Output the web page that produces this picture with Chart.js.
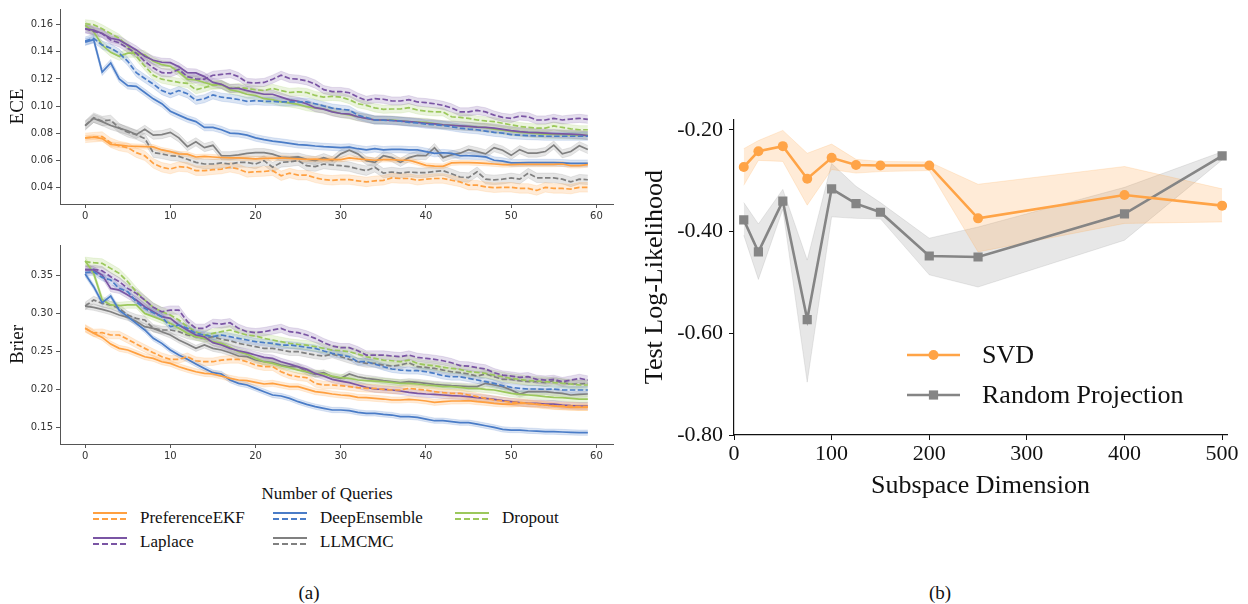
<!DOCTYPE html>
<html>
<head>
<meta charset="utf-8">
<script src="https://cdn.jsdelivr.net/npm/chart.js@4.4.1/dist/chart.umd.min.js"></script>
<style>
  html, body { margin: 0; padding: 0; background: #fff; }
  body { width: 1248px; height: 604px; position: relative; overflow: hidden; font-family: "Liberation Serif", "Times New Roman", serif; color: #111; }
  canvas { position: absolute; }
  .c { position: absolute; white-space: nowrap; transform: translate(-50%, -50%); line-height: 1; }
  .l { position: absolute; white-space: nowrap; transform: translateY(-50%); line-height: 1; }
  .h { position: absolute; width: 34px; height: 2px; }
</style>
</head>
<body>
<canvas id="eceChart" width="630" height="225" style="left:0;top:0"></canvas>
<canvas id="brierChart" width="630" height="240" style="left:0;top:225px"></canvas>
<canvas id="llChart" width="612" height="410" style="left:630px;top:100px"></canvas>

<div class="c" style="left:327px;top:493px;font-size:17px">Number of Queries</div>
<div id="legendA"></div>
<div class="c" style="left:309px;top:592px;font-size:19px">(a)</div>
<div class="c" style="left:940px;top:592px;font-size:19px">(b)</div>

<script>
// ---- query axis ----
const queries = Array.from({ length: 60 }, (_, i) => i);
const queryTicks = [0, 10, 20, 30, 40, 50, 60];
const eceTicks = [0.04, 0.06, 0.08, 0.10, 0.12, 0.14, 0.16];
const brierTicks = [0.15, 0.20, 0.25, 0.30, 0.35];

// ---- ECE per query (solid / dashed variant of each method) ----
const eceEKF = [.0765,.0770,.0760,.0717,.0712,.0705,.0702,.0700,.0698,.0676,.0664,.0647,.0645,.0624,.0628,.0624,.0620,.0617,.0617,.0614,
  .0610,.0614,.0614,.0617,.0614,.0610,.0607,.0608,.0605,.0607,.0605,.0617,.0610,.0605,.0600,.0605,.0605,.0600,.0600,.0582,
  .0562,.0557,.0555,.0580,.0582,.0582,.0580,.0577,.0572,.0567,.0567,.0570,.0570,.0570,.0570,.0570,.0572,.0560,.0560,.0567];
const eceEKFDash = [.0765,.0770,.0775,.0729,.0705,.0693,.0656,.0633,.0577,.0548,.0535,.0553,.0548,.0523,.0523,.0530,.0535,.0548,.0535,.0510,
  .0515,.0517,.0523,.0485,.0505,.0490,.0490,.0470,.0457,.0452,.0457,.0457,.0448,.0440,.0448,.0452,.0469,.0465,.0465,.0452,
  .0460,.0465,.0465,.0452,.0440,.0416,.0416,.0404,.0397,.0400,.0400,.0392,.0392,.0377,.0400,.0392,.0392,.0387,.0400,.0400];
const eceDE = [.1472,.1490,.1250,.1318,.1200,.1150,.1145,.1100,.1053,.1017,.0962,.0933,.0905,.0885,.0842,.0842,.0825,.0800,.0796,.0785,
  .0765,.0752,.0741,.0733,.0725,.0715,.0712,.0705,.0700,.0697,.0693,.0697,.0685,.0676,.0685,.0676,.0680,.0680,.0676,.0676,
  .0664,.0650,.0655,.0650,.0633,.0633,.0630,.0625,.0600,.0593,.0580,.0580,.0582,.0582,.0582,.0582,.0580,.0577,.0577,.0577];
const eceDEDash = [.1480,.1499,.1450,.1427,.1390,.1330,.1246,.1203,.1162,.1114,.1090,.1114,.1090,.1042,.1054,.1082,.1065,.1058,.1048,.1035,
  .1040,.1035,.1035,.1030,.1030,.1030,.1030,.1017,.1000,.0985,.0977,.0970,.0933,.0915,.0897,.0895,.0893,.0888,.0880,.0875,
  .0866,.0862,.0857,.0847,.0837,.0830,.0825,.0815,.0806,.0800,.0789,.0785,.0782,.0780,.0777,.0777,.0777,.0777,.0777,.0777];
const eceLap = [.1570,.1560,.1535,.1500,.1487,.1450,.1414,.1367,.1338,.1323,.1320,.1290,.1246,.1244,.1217,.1174,.1160,.1130,.1130,.1114,
  .1100,.1087,.1087,.1066,.1045,.1035,.1017,.0988,.0977,.0957,.0945,.0940,.0921,.0909,.0897,.0897,.0893,.0889,.0885,.0879,
  .0873,.0868,.0862,.0858,.0854,.0850,.0845,.0842,.0837,.0828,.0818,.0811,.0806,.0803,.0800,.0797,.0794,.0792,.0789,.0782];
const eceLapDash = [.1570,.1550,.1535,.1487,.1466,.1427,.1390,.1330,.1282,.1246,.1244,.1270,.1217,.1200,.1198,.1227,.1233,.1240,.1217,.1174,
  .1170,.1174,.1198,.1227,.1203,.1198,.1186,.1162,.1121,.1107,.1107,.1098,.1066,.1042,.1054,.1050,.1037,.1037,.1047,.1030,
  .1025,.1017,.1005,.0986,.0957,.0957,.0968,.0957,.0933,.0916,.0909,.0926,.0921,.0897,.0897,.0909,.0897,.0904,.0909,.0902];
const eceDrop = [.1595,.1547,.1450,.1396,.1367,.1390,.1390,.1378,.1330,.1305,.1294,.1251,.1198,.1193,.1174,.1155,.1160,.1120,.1107,.1087,
  .1078,.1054,.1047,.1030,.1023,.1012,.0995,.0985,.0978,.0960,.0945,.0935,.0921,.0910,.0897,.0897,.0897,.0890,.0885,.0882,
  .0879,.0870,.0862,.0858,.0853,.0850,.0846,.0840,.0830,.0822,.0813,.0806,.0801,.0796,.0792,.0790,.0789,.0787,.0784,.0784];
const eceDropDash = [.1607,.1600,.1570,.1535,.1500,.1443,.1367,.1294,.1227,.1198,.1186,.1174,.1167,.1120,.1136,.1155,.1155,.1130,.1136,.1130,
  .1120,.1114,.1130,.1114,.1100,.1105,.1100,.1078,.1066,.1071,.1066,.1047,.1017,.1005,.0986,.0976,.0978,.0978,.0988,.0971,
  .0962,.0957,.0957,.0921,.0916,.0909,.0897,.0890,.0885,.0873,.0861,.0849,.0842,.0837,.0837,.0853,.0842,.0832,.0825,.0825];
const eceMC = [.0856,.0909,.0885,.0856,.0837,.0818,.0789,.0828,.0785,.0789,.0806,.0765,.0700,.0736,.0693,.0710,.0633,.0633,.0640,.0650,
  .0656,.0656,.0645,.0624,.0620,.0624,.0607,.0597,.0619,.0597,.0647,.0674,.0647,.0597,.0584,.0633,.0619,.0584,.0619,.0636,
  .0633,.0693,.0619,.0640,.0652,.0678,.0664,.0647,.0693,.0674,.0636,.0678,.0652,.0652,.0664,.0712,.0647,.0664,.0707,.0679];
const eceMCDash = [.0856,.0914,.0889,.0897,.0837,.0806,.0789,.0760,.0656,.0647,.0633,.0628,.0607,.0584,.0572,.0572,.0580,.0572,.0584,.0584,
  .0572,.0597,.0548,.0584,.0589,.0597,.0560,.0553,.0572,.0565,.0560,.0553,.0536,.0523,.0548,.0505,.0513,.0505,.0513,.0508,
  .0508,.0517,.0523,.0500,.0476,.0472,.0515,.0460,.0455,.0460,.0470,.0460,.0505,.0470,.0470,.0470,.0460,.0440,.0460,.0456];

// ---- Brier score per query ----
const brEKF = [.2801,.2735,.2682,.2594,.2537,.2515,.2471,.2427,.2405,.2361,.2339,.2295,.2260,.2229,.2207,.2199,.2172,.2142,.2120,.2111,
  .2089,.2067,.2076,.2054,.2032,.2032,.2000,.1966,.1953,.1935,.1922,.1913,.1891,.1887,.1878,.1869,.1856,.1856,.1865,.1856,
  .1843,.1825,.1834,.1843,.1843,.1847,.1834,.1825,.1812,.1803,.1803,.1812,.1812,.1799,.1790,.1777,.1768,.1759,.1759,.1759];
const brEKFDash = [.2801,.2740,.2744,.2713,.2713,.2656,.2594,.2537,.2480,.2427,.2392,.2392,.2427,.2374,.2361,.2361,.2383,.2392,.2392,.2361,
  .2317,.2295,.2295,.2229,.2185,.2163,.2150,.2076,.2054,.2054,.2045,.2032,.2019,.2010,.2010,.1997,.1988,.1988,.2010,.1997,
  .1988,.1966,.1953,.1944,.1944,.1922,.1900,.1878,.1856,.1843,.1825,.1825,.1812,.1803,.1790,.1781,.1777,.1777,.1768,.1768];
const brDE = [.3517,.3350,.3140,.3227,.3042,.2955,.2867,.2779,.2669,.2603,.2515,.2449,.2392,.2331,.2273,.2216,.2199,.2120,.2076,.2054,
  .2010,.1966,.1922,.1909,.1878,.1834,.1799,.1768,.1746,.1724,.1724,.1715,.1693,.1680,.1680,.1667,.1658,.1636,.1636,.1627,
  .1605,.1583,.1583,.1570,.1557,.1557,.1539,.1517,.1495,.1469,.1460,.1460,.1451,.1447,.1438,.1438,.1434,.1429,.1425,.1425];
const brDEDash = [.3535,.3548,.3473,.3438,.3328,.3284,.3152,.3064,.3007,.2955,.2823,.2845,.2801,.2735,.2713,.2691,.2713,.2691,.2669,.2647,
  .2625,.2612,.2603,.2581,.2581,.2568,.2550,.2537,.2502,.2471,.2449,.2427,.2361,.2361,.2330,.2295,.2265,.2251,.2243,.2243,
  .2229,.2207,.2177,.2163,.2163,.2142,.2120,.2098,.2076,.2045,.2023,.2010,.2001,.2001,.1997,.2001,.1988,.1988,.1988,.1988];
const brLap = [.3579,.3570,.3504,.3328,.3306,.3240,.3174,.3086,.3020,.2955,.2933,.2845,.2779,.2713,.2691,.2612,.2581,.2537,.2506,.2480,
  .2449,.2418,.2405,.2361,.2330,.2295,.2260,.2207,.2172,.2128,.2106,.2085,.2054,.2023,.2001,.1997,.1988,.1975,.1957,.1944,
  .1935,.1931,.1922,.1913,.1909,.1900,.1887,.1878,.1865,.1847,.1834,.1821,.1812,.1812,.1803,.1803,.1790,.1781,.1777,.1777];
const brLapDash = [.3570,.3579,.3561,.3482,.3416,.3328,.3262,.3174,.3078,.3020,.3042,.3042,.2890,.2801,.2801,.2867,.2858,.2875,.2801,.2757,
  .2744,.2757,.2779,.2801,.2757,.2744,.2713,.2669,.2612,.2568,.2546,.2546,.2506,.2449,.2449,.2449,.2436,.2427,.2449,.2418,
  .2405,.2392,.2374,.2348,.2309,.2304,.2282,.2265,.2216,.2185,.2172,.2155,.2163,.2128,.2119,.2128,.2098,.2119,.2141,.2119];
const brDrop = [.3693,.3526,.3180,.3110,.3100,.3110,.3110,.2998,.2955,.2911,.2867,.2801,.2735,.2691,.2669,.2625,.2603,.2550,.2493,.2462,
  .2405,.2361,.2339,.2304,.2282,.2251,.2229,.2207,.2199,.2172,.2150,.2141,.2120,.2111,.2106,.2098,.2089,.2076,.2076,.2067,
  .2054,.2045,.2032,.2032,.2023,.2010,.2010,.1997,.1988,.1966,.1944,.1931,.1922,.1913,.1900,.1891,.1887,.1878,.1869,.1869];
const brDropDash = [.3680,.3667,.3658,.3592,.3526,.3416,.3284,.3174,.3078,.3020,.2977,.2911,.2823,.2757,.2713,.2735,.2757,.2779,.2744,.2713,
  .2700,.2669,.2647,.2625,.2603,.2590,.2581,.2559,.2537,.2515,.2506,.2493,.2462,.2427,.2405,.2383,.2374,.2361,.2383,.2339,
  .2317,.2309,.2287,.2273,.2260,.2229,.2221,.2207,.2185,.2163,.2141,.2128,.2111,.2106,.2098,.2085,.2076,.2067,.2054,.2054];
const brMC = [.3095,.3078,.3051,.3020,.2977,.2946,.2890,.2823,.2801,.2757,.2713,.2647,.2594,.2537,.2581,.2537,.2515,.2480,.2436,.2427,
  .2383,.2361,.2350,.2317,.2295,.2295,.2229,.2194,.2216,.2163,.2142,.2199,.2163,.2142,.2128,.2111,.2098,.2085,.2098,.2089,
  .2076,.2063,.2054,.2045,.2041,.2032,.2032,.2076,.2054,.2032,.1988,.1935,.1966,.1966,.1966,.1953,.1944,.1922,.1931,.1935];
const brMCDash = [.3095,.3174,.3130,.3108,.3064,.2977,.2933,.2911,.2801,.2779,.2779,.2757,.2713,.2691,.2669,.2691,.2656,.2638,.2603,.2581,
  .2559,.2537,.2537,.2515,.2493,.2493,.2471,.2449,.2436,.2462,.2427,.2392,.2361,.2339,.2339,.2317,.2304,.2317,.2348,.2295,
  .2287,.2273,.2251,.2229,.2216,.2199,.2172,.2199,.2163,.2128,.2128,.2111,.2098,.2098,.2085,.2111,.2085,.2067,.2067,.2076];

// half-width of the shaded spread around each curve [solid, dashed]
const eceSpreadEKF = [0.0018, 0.0035], eceSpreadDE = [0.0025, 0.0030], eceSpreadLap = [0.0030, 0.0030],
      eceSpreadDrop = [0.0030, 0.0030], eceSpreadMC = [0.0030, 0.0035];
const brSpreadEKF = [0.0040, 0.0050], brSpreadDE = [0.0035, 0.0045], brSpreadLap = [0.0045, 0.0055],
      brSpreadDrop = [0.0045, 0.0060], brSpreadMC = [0.0040, 0.0050];

// ---- subspace dimension study ----
const dims = [10, 25, 50, 75, 100, 125, 150, 200, 250, 400, 500];
const dimTicks = [0, 100, 200, 300, 400, 500];
const llTicks = [-0.8, -0.6, -0.4, -0.2];
const svdMean  = [-0.273, -0.242, -0.232, -0.296, -0.255, -0.269, -0.270, -0.270, -0.374, -0.328, -0.349];
const svdUpper = [-0.237, -0.221, -0.201, -0.246, -0.228, -0.258, -0.262, -0.263, -0.307, -0.272, -0.316];
const svdLower = [-0.309, -0.260, -0.262, -0.348, -0.278, -0.285, -0.282, -0.280, -0.440, -0.384, -0.381];
const rpMean   = [-0.377, -0.440, -0.340, -0.573, -0.316, -0.345, -0.362, -0.448, -0.450, -0.365, -0.251];
const rpUpper  = [-0.343, -0.385, -0.317, -0.456, -0.266, -0.311, -0.343, -0.413, -0.391, -0.313, -0.243];
const rpLower  = [-0.407, -0.494, -0.356, -0.696, -0.371, -0.374, -0.375, -0.485, -0.509, -0.417, -0.259];

// ---- colours ----
const ORANGE = '#ffa040', BLUE = '#4a7cc7', PURPLE = '#7a55a4', GREEN = '#9cc85c', GRAY = '#808080';

const methods = [
  { name: 'PreferenceEKF', color: ORANGE, ece: [eceEKF, eceEKFDash], brier: [brEKF, brEKFDash], eceSpread: eceSpreadEKF, brSpread: brSpreadEKF },
  { name: 'DeepEnsemble', color: BLUE, ece: [eceDE, eceDEDash], brier: [brDE, brDEDash], eceSpread: eceSpreadDE, brSpread: brSpreadDE },
  { name: 'Laplace', color: PURPLE, ece: [eceLap, eceLapDash], brier: [brLap, brLapDash], eceSpread: eceSpreadLap, brSpread: brSpreadLap },
  { name: 'Dropout', color: GREEN, ece: [eceDrop, eceDropDash], brier: [brDrop, brDropDash], eceSpread: eceSpreadDrop, brSpread: brSpreadDrop },
  { name: 'LLMCMC', color: GRAY, ece: [eceMC, eceMCDash], brier: [brMC, brMCDash], eceSpread: eceSpreadMC, brSpread: brSpreadMC },
];

Chart.defaults.animation = false;
Chart.defaults.color = '#222';
Chart.defaults.plugins.legend.display = false;
Chart.defaults.plugins.tooltip.enabled = false;

function rgba(hex, a) {
  const n = parseInt(hex.slice(1), 16);
  return `rgba(${(n >> 16) & 255},${(n >> 8) & 255},${n & 255},${a})`;
}
function pts(xs, ys) { return ys.map((y, i) => ({ x: xs[i], y })); }
function band(xs, lo, hi, color, alpha, order) {
  return [
    { data: pts(xs, hi), borderColor: rgba(color, alpha * 1.1), borderWidth: 0.8, pointRadius: 0, fill: false, order },
    { data: pts(xs, lo), borderColor: rgba(color, alpha * 1.1), borderWidth: 0.8, pointRadius: 0, fill: '-1', backgroundColor: rgba(color, alpha), order },
  ];
}

function queryChart(id, key, spreadKey, yTitle, yMin, yMax, yTicks, padTop) {
  const datasets = [];
  methods.forEach(m => {
    m[key].forEach((vals, v) => {
      const s = m[spreadKey][v];
      datasets.push(...band(queries, vals.map(y => y - s), vals.map(y => y + s), m.color, 0.2, 3));
    });
  });
  methods.forEach(m => {
    m[key].forEach((vals, v) => {
      datasets.push({
        label: m.name, data: pts(queries, vals), borderColor: m.color, borderWidth: 1.7,
        borderDash: v === 1 ? [5.5, 2.4] : [], pointRadius: 0, fill: false, tension: 0, order: 1,
      });
    });
  });
  const tickFont = { family: '"DejaVu Sans", sans-serif', size: 10 };
  return new Chart(document.getElementById(id), {
    type: 'line',
    data: { datasets },
    options: {
      responsive: false,
      layout: { padding: { top: padTop, right: 17, left: 0, bottom: 0 } },
      scales: {
        x: {
          type: 'linear', min: -2.95, max: 61.95,
          afterBuildTicks: s => { s.ticks = queryTicks.map(value => ({ value })); },
          afterFit: s => { s.height = 21; },
          ticks: { font: tickFont, color: '#333', padding: 2, maxRotation: 0, callback: v => String(v) },
          grid: { drawOnChartArea: false, drawTicks: true, tickLength: 4, color: '#555' },
          border: { display: true, color: '#555', width: 1 },
        },
        y: {
          min: yMin, max: yMax,
          afterBuildTicks: s => { s.ticks = yTicks.map(value => ({ value })); },
          afterFit: s => { s.width = 60; },
          ticks: { font: tickFont, color: '#333', padding: 3, callback: v => v.toFixed(2) },
          grid: { drawOnChartArea: false, drawTicks: true, tickLength: 4, color: '#555' },
          border: { display: true, color: '#555', width: 1 },
          title: { display: true, text: yTitle, font: { family: '"Liberation Serif", serif', size: 19 }, color: '#111', padding: { top: 7 } },
        },
      },
    },
  });
}

queryChart('eceChart', 'ece', 'eceSpread', 'ECE', 0.0277, 0.1716, eceTicks, 5);
queryChart('brierChart', 'brier', 'brSpread', 'Brier', 0.1276, 0.390, brierTicks, 20);

// ---- legend for the query charts ----
const legendRows = [
  [{ m: 0, x: 93 }, { m: 1, x: 273 }, { m: 3, x: 455 }],
  [{ m: 2, x: 93 }, { m: 4, x: 273 }],
];
const legendA = document.getElementById('legendA');
legendRows.forEach((row, r) => {
  const cy = 516.5 + r * 24.5;
  row.forEach(({ m, x }) => {
    const c = methods[m].color;
    legendA.insertAdjacentHTML('beforeend',
      `<div class="h" style="left:${x}px;top:${cy - 4.5}px;background:${c}"></div>` +
      `<div class="h" style="left:${x}px;top:${cy + 1.5}px;background:repeating-linear-gradient(90deg, ${c} 0 6px, transparent 6px 9px)"></div>` +
      `<div class="l" style="left:${x + 47}px;top:${cy}px;font-size:17px">${methods[m].name}</div>`);
  });
});

// ---- log-likelihood vs subspace dimension ----
const inlineLegend = {
  id: 'inlineLegend',
  afterDraw(chart, args, opts) {
    const ctx = chart.ctx;
    opts.items.forEach((idx, k) => {
      const ds = chart.data.datasets[idx];
      const y = opts.y + k * opts.gap;
      ctx.save();
      ctx.strokeStyle = ds.borderColor;
      ctx.lineWidth = ds.borderWidth;
      ctx.beginPath(); ctx.moveTo(opts.x, y); ctx.lineTo(opts.x + opts.len, y); ctx.stroke();
      ctx.fillStyle = ds.pointBackgroundColor;
      ctx.strokeStyle = ds.pointBackgroundColor;
      Chart.helpers.drawPoint(ctx, { pointStyle: ds.pointStyle, radius: ds.pointRadius, borderWidth: 0, rotation: 0 }, opts.x + opts.len / 2, y);
      ctx.fillStyle = '#111';
      ctx.font = opts.font;
      ctx.textBaseline = 'middle';
      ctx.fillText(ds.label, opts.x + opts.len + opts.pad, y + 1);
      ctx.restore();
    });
  },
};

const SVD_C = '#ffa447', RP_C = '#858585';
const serif = '"Liberation Serif", serif';
new Chart(document.getElementById('llChart'), {
  type: 'line',
  data: {
    datasets: [
      ...band(dims, svdLower, svdUpper, SVD_C, 0.22, 3),
      ...band(dims, rpLower, rpUpper, RP_C, 0.2, 3),
      { label: 'SVD', data: pts(dims, svdMean), borderColor: SVD_C, borderWidth: 2.6, pointStyle: 'circle', pointRadius: 5,
        pointBackgroundColor: SVD_C, pointBorderWidth: 0, fill: false, order: 1 },
      { label: 'Random Projection', data: pts(dims, rpMean), borderColor: RP_C, borderWidth: 2.6, pointStyle: 'rect', pointRadius: 6.5,
        pointBackgroundColor: RP_C, pointBorderWidth: 0, fill: false, order: 1 },
    ],
  },
  options: {
    responsive: false,
    layout: { padding: { top: 12, right: 15, left: 0, bottom: 0 } },
    scales: {
      x: {
        type: 'linear', min: 0, max: 505,
        afterBuildTicks: s => { s.ticks = dimTicks.map(value => ({ value })); },
        afterFit: s => { s.height = 75; },
        ticks: { font: { family: serif, size: 22 }, color: '#111', padding: 1, maxRotation: 0, callback: v => String(v) },
        grid: { drawOnChartArea: false, drawTicks: true, tickLength: 5, color: '#111' },
        border: { display: true, color: '#111', width: 1.2 },
        title: { display: true, text: 'Subspace Dimension', font: { family: serif, size: 26 }, color: '#111', padding: { bottom: 8 } },
      },
      y: {
        min: -0.8, max: -0.179,
        afterBuildTicks: s => { s.ticks = llTicks.map(value => ({ value })); },
        afterFit: s => { s.width = 104; },
        ticks: { font: { family: serif, size: 22 }, color: '#111', padding: 6, callback: v => v.toFixed(2) },
        grid: { drawOnChartArea: false, drawTicks: true, tickLength: 5, color: '#111' },
        border: { display: true, color: '#111', width: 1.2 },
        title: { display: true, text: 'Test Log-Likelihood', font: { family: serif, size: 26 }, color: '#111', padding: { top: 10 } },
      },
    },
    plugins: {
      inlineLegend: { items: [4, 5], x: 277, len: 53, y: 255, gap: 40, pad: 22, font: '26px "Liberation Serif", serif' },
    },
  },
  plugins: [inlineLegend],
});
</script>
</body>
</html>
